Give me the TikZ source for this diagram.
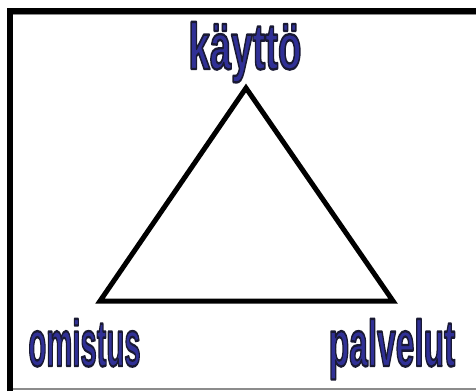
\documentclass[tikz,border=0pt]{standalone}
\usepackage{fontspec}
\setmainfont{Liberation Sans}
\definecolor{wordblue}{RGB}{48,48,150}
\definecolor{framegray}{RGB}{140,140,140}
\newcommand{\outlined}[1]{\special{pdf:literal direct 2 Tr 0.1 0.1 0.2 RG 2.4 w 1 j}#1\special{pdf:literal direct 0 Tr}}
\tikzset{
  word/.style={inner sep=0pt, anchor=base, text=wordblue, font=\bfseries\fontsize{65}{70}\selectfont},
  edge/.style={line width=5pt, line join=miter, draw=black},
  frameline/.style={line width=6pt, draw=black},
  thinline/.style={line width=1.5pt, draw=framegray}
}
\begin{document}
\begin{tikzpicture}[x=1pt,y=-1pt]
\useasboundingbox (0,0) rectangle (476,391);
\fill[white] (0,0) rectangle (476,391);
% frame
\coordinate (fl) at (10,391);
\coordinate (ftl) at (10,11);
\coordinate (ftr) at (476,11);
\draw[frameline] (fl) -- (ftl) -- (ftr);
\coordinate (gl) at (13,14.8);
\coordinate (gr) at (476,14.8);
\draw[framegray, line width=1pt] (gl) -- (gr);
\coordinate (bl) at (13,389);
\coordinate (br) at (476,389);
\draw[thinline] (bl) -- (br);
% triangle
\coordinate (top) at (246,88);
\coordinate (left) at (100,301);
\coordinate (right) at (393,301);
\draw[edge] (top) -- (left) -- (right) -- cycle;
% words
\node[word] (k) at (245,69) {\scalebox{0.59}[1]{\outlined{käyttö}}};
\node[word] (o) at (84.5,366) {\scalebox{0.45}[1]{\outlined{omistus}}};
\node[word] (p) at (392,366) {\scalebox{0.515}[1]{\outlined{palvelut}}};
\end{tikzpicture}
\end{document}
